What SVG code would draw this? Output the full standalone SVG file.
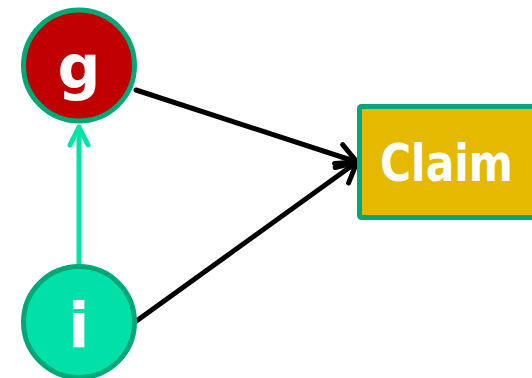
<svg xmlns="http://www.w3.org/2000/svg" width="532" height="378" viewBox="0 0 532 378">
<style>
.lbl{font-family:"DejaVu Sans","Liberation Sans",sans-serif;font-weight:bold;fill:#ffffff;text-anchor:middle}
.node{stroke:#00a878;stroke-width:5}
.edge{fill:none;stroke:#000000;stroke-width:5;stroke-linecap:round}
</style>
<defs>
<marker id="ab" markerUnits="userSpaceOnUse" markerWidth="40" markerHeight="40" viewBox="-30 -20 40 40" refX="0" refY="0" orient="auto" overflow="visible">
<path d="M -19 -12 L 0 0 L -19 12" fill="none" stroke="#000000" stroke-width="5" stroke-linecap="round" stroke-linejoin="round"/>
</marker>
<marker id="at" markerUnits="userSpaceOnUse" markerWidth="40" markerHeight="40" viewBox="-30 -20 40 40" refX="0" refY="0" orient="auto" overflow="visible">
<path d="M -18 -9 L 0 0 L -18 9" fill="none" stroke="#00e5a6" stroke-width="5" stroke-linecap="round" stroke-linejoin="round"/>
</marker>
</defs>
<g id="connectors">
<line class="edge" x1="136" y1="90" x2="357" y2="162" marker-end="url(#ab)"/>
<line class="edge" x1="135" y1="322" x2="357" y2="162" marker-end="url(#ab)"/>
<line x1="79" y1="265" x2="79" y2="127" stroke="#00e5a6" stroke-width="5" marker-end="url(#at)"/>
</g>
<g id="node-g">
<circle class="node" cx="79" cy="65.5" r="55.5" fill="#c00000"/>
<text class="lbl" x="79" y="88" font-size="60">g</text>
</g>
<g id="node-i">
<circle class="node" cx="79" cy="322" r="55.5" fill="#00e0a8"/>
<text class="lbl" x="79" y="347" font-size="62">i</text>
</g>
<g id="node-claim">
<rect class="node" x="359.5" y="106.5" width="200" height="111" rx="2" fill="#e5b900"/>
<text class="lbl" x="446.5" y="181" font-size="51" textLength="133" lengthAdjust="spacingAndGlyphs">Claim</text>
</g>
</svg>
